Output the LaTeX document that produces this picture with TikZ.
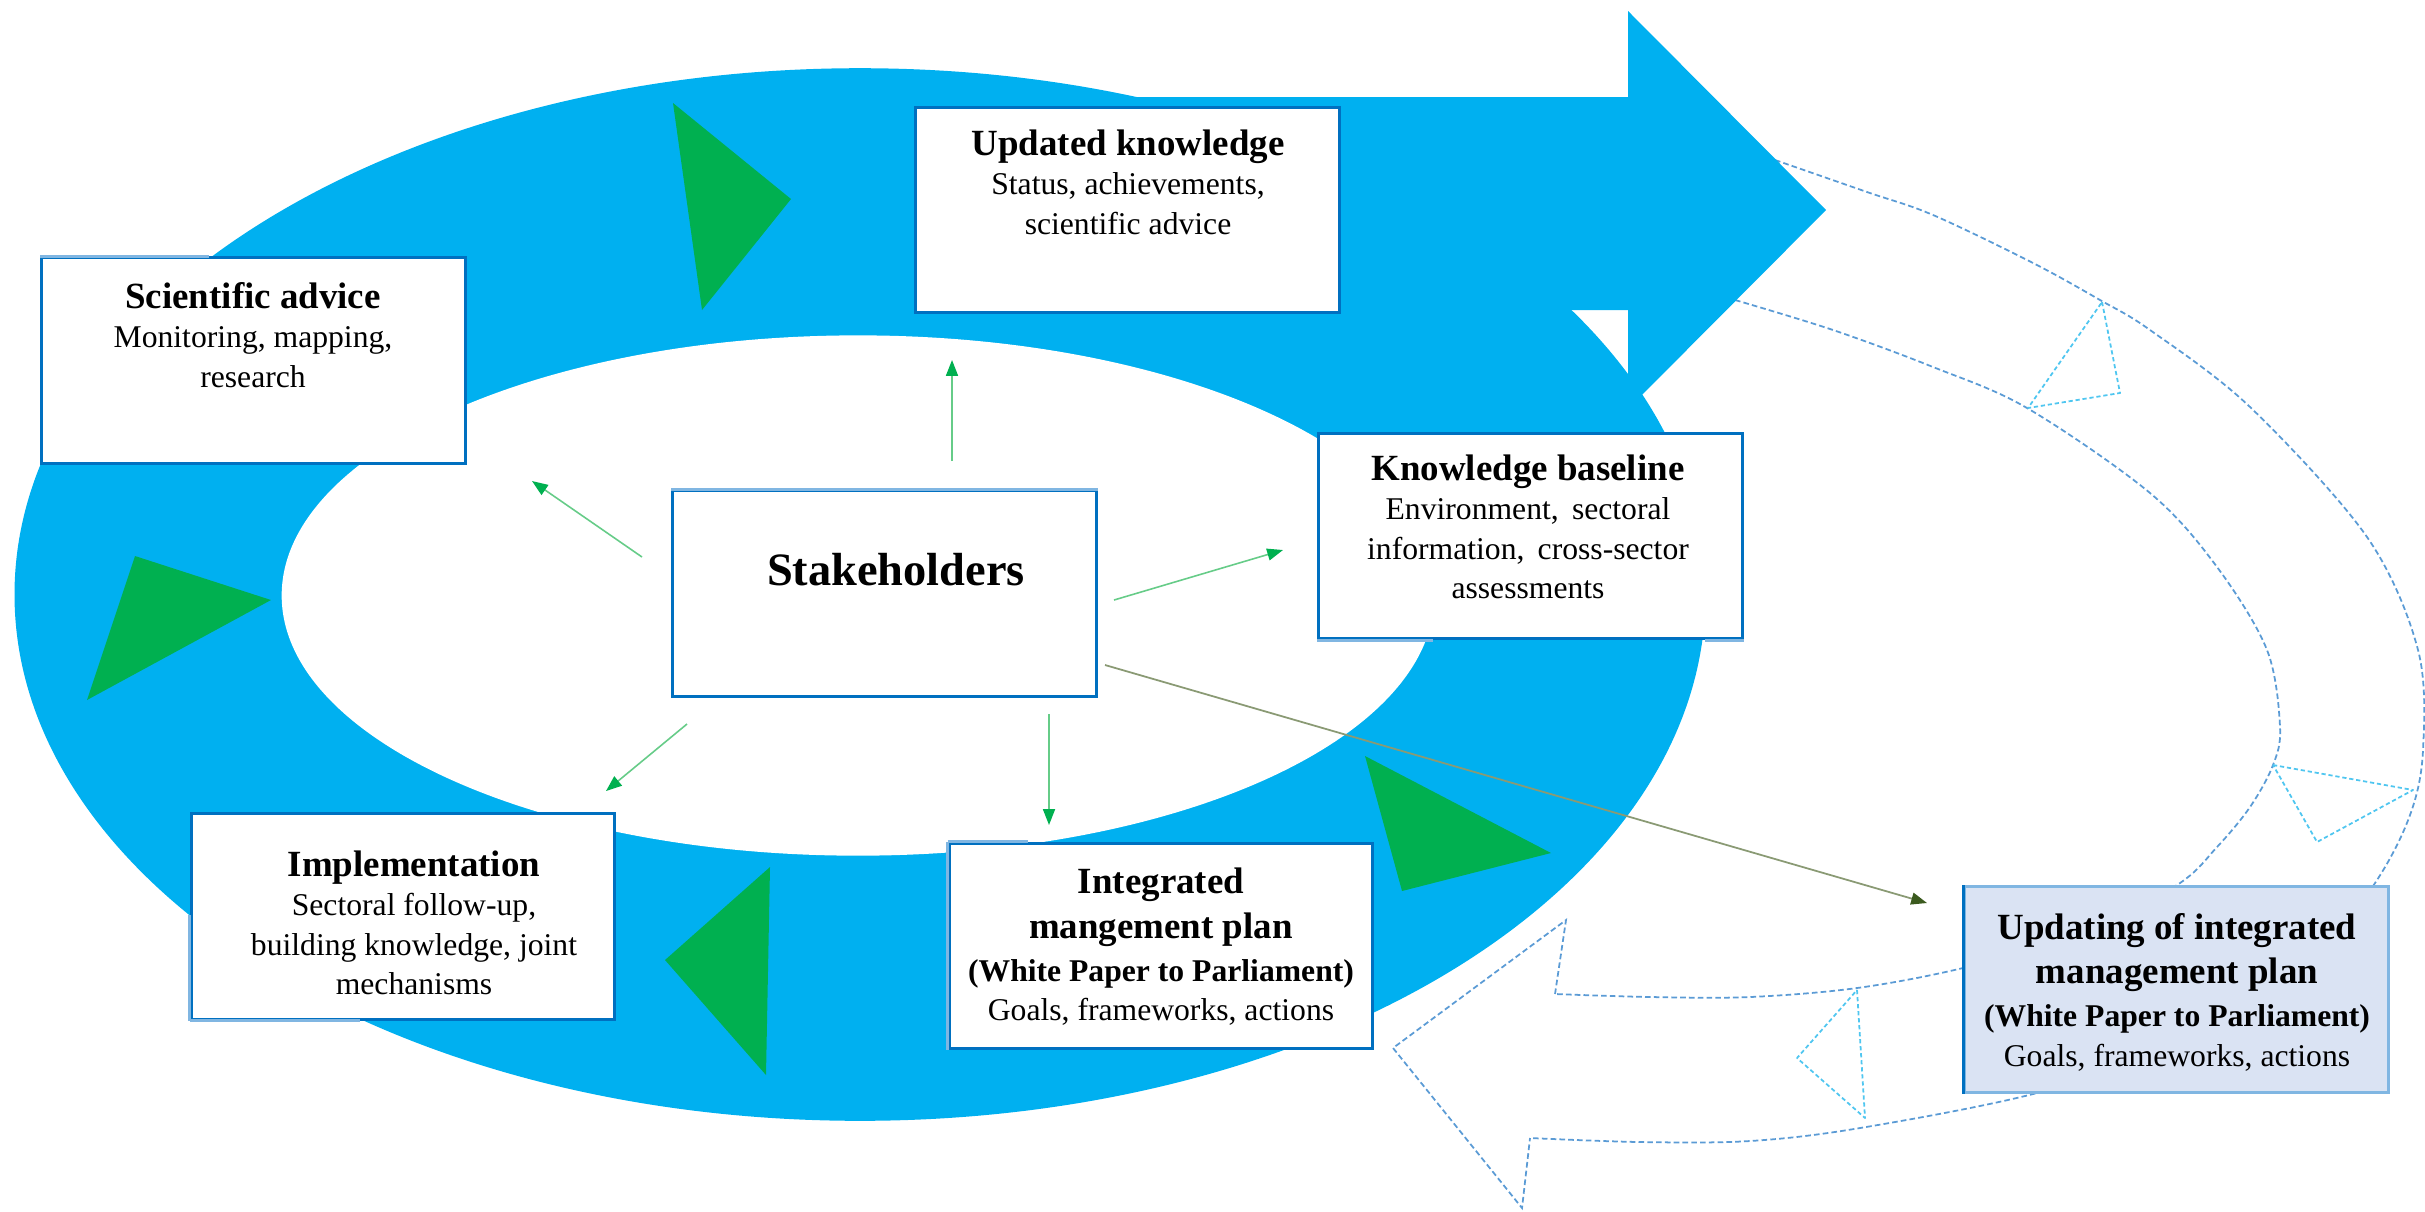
\documentclass[tikz,border=0pt]{standalone}
\usepackage{fontspec}
\setmainfont{Liberation Serif}
\usetikzlibrary{arrows.meta}
\definecolor{ringblue}{HTML}{00B0F0}
\definecolor{trigreen}{HTML}{00B050}
\definecolor{boxblue}{HTML}{0070C0}
\definecolor{edgelight}{HTML}{80B6E2}
\definecolor{dotblue}{HTML}{5B9BD5}
\definecolor{tricyan}{HTML}{4FC6F0}
\definecolor{updfill}{HTML}{DAE3F3}
\definecolor{linegreen}{HTML}{66CC88}
\definecolor{darkline}{HTML}{8A9A74}
\definecolor{darkhead}{HTML}{3B5A1E}
\newcommand\ttlf{\fontsize{10.5}{11.2}\selectfont\bfseries}
\newcommand\wpf{\fontsize{9}{11.2}\selectfont\bfseries}
\tikzset{
  box/.style={draw=boxblue, line width=0.85pt, fill=white, minimum width=4.23cm, minimum height=2.05cm, inner sep=0pt},
  txt/.style={align=center, inner sep=0pt, font=\fontsize{9}{11.2}\selectfont},
  lightedge/.style={draw=edgelight, line width=0.85pt},
  garrow/.style={draw=linegreen, line width=0.45pt, -{Triangle[length=4.5pt,width=3.4pt,color=trigreen]}},
  darrow/.style={draw=darkline, line width=0.5pt, -{Triangle[length=4.5pt,width=3.4pt,color=darkhead]}},
  dotline/.style={draw=dotblue, line width=0.5pt, dash pattern=on 1.6pt off 0.9pt},
  dottri/.style={draw=tricyan, line width=0.5pt, dash pattern=on 1.2pt off 0.8pt, line join=round},
  gtri/.style={fill=trigreen}
}
\begin{document}
\begin{tikzpicture}[x=0.01cm,y=-0.01cm]
\useasboundingbox (0,0) rectangle (2425,1211);

% second (future) cycle, outlined
\draw[dotline] plot[smooth, tension=0.55] coordinates {(1775,160) (1867,192) (1933,215) (2033,263) (2100,300) (2150,330) (2250,407) (2367,537) (2418,650) (2423,750) (2410,815) (2375,883) (2310,965) (2200,1040) (2037,1093) (1860,1128) (1750,1141) (1640,1142) (1530,1138)};
\draw[dotline] plot[smooth, tension=0.55] coordinates {(1735,300) (1833,330) (1933,367) (2027,408) (2150,493) (2217,567) (2267,650) (2280,727) (2273,765) (2250,807) (2217,847) (2177,885) (2080,935) (1963,968) (1857,988) (1750,997) (1650,997) (1555,994)};
\draw[dotline] (1555,994) -- (1566,920) -- (1393,1048) -- (1522,1208) -- (1530,1138);

% main blue ring and arrow
\fill[ringblue] (860,594.5) ellipse [x radius=8.45cm, y radius=5.26cm];
\fill[ringblue] (1100,97) -- (1628,97) -- (1628,11) -- (1826,210) -- (1628,409) -- (1628,310) -- (1100,310) -- cycle;
\fill[white] (858,595.5) ellipse [x radius=5.76cm, y radius=2.6cm];

% green direction triangles
\fill[gtri] (673,103) -- (791,199) -- (702,310) -- cycle;
\fill[gtri] (135,556) -- (271,600) -- (87,700) -- cycle;
\fill[gtri] (770,867) -- (665,960) -- (766,1075) -- cycle;
\fill[gtri] (1365,756) -- (1551,853) -- (1402,891) -- cycle;

% outlined direction triangles
\draw[dottri] (2102,302) -- (2120,393) -- (2028,408) -- cycle;
\draw[dottri] (2273,765) -- (2413,790) -- (2317,842) -- cycle;
\draw[dottri] (1857,990) -- (1865,1118) -- (1797,1058) -- cycle;

% boxes
\node[box] (bSci) at (253.5,360.5) {};
\node[box] (bUpd) at (1127.5,210) {};
\node[box] (bSta) at (884.5,593.5) {};
\node[box] (bKno) at (1530.5,536) {};
\node[box] (bImp) at (403,916.5) {};
\node[box] (bInt) at (1161,946) {};
\node[box, fill=updfill, draw=edgelight] (bUpg) at (2176.5,989.5) {};

% lighter border segments
\draw[lightedge] (bSci.north west) -- ++(169,0);
\draw[lightedge] (bSta.north west) -- (bSta.north east);
\draw[lightedge] (bImp.south west) -- ++(170,0);
\draw[lightedge] (bImp.south west) -- ++(0,-106);
\draw[lightedge] (bInt.north west) -- ++(80,0);
\draw[lightedge] (bInt.north west) -- (bInt.south west);
\draw[lightedge] (bKno.south west) -- ++(116,0);
\draw[lightedge] (bKno.south east) -- ++(-39,0);
\draw[draw=boxblue, line width=0.85pt] (bUpg.north west) -- (bUpg.south west);

% texts
\node[txt] (tSci) at (253,335) {{\ttlf Scientific advice}\\Monitoring, mapping,\\research};
\node[txt] (tUpd) at (1128,182) {{\ttlf Updated knowledge}\\Status, achievements,\\scientific advice};
\node[txt] (tKno) at (1528,527) {{\ttlf Knowledge baseline}\\Environment,\, sectoral\\information,\, cross-sector\\assessments};
\node[txt] (tImp) at (414,923) {{\ttlf Implementation}\\Sectoral follow-up,\\building knowledge, joint\\mechanisms};
\node[txt] (tInt) at (1161,947) {{\ttlf Integrated}\\[1.5pt]{\ttlf mangement plan}\\[1pt]{\wpf (White Paper to Parliament)}\\Goals, frameworks, actions};
\node[txt] (tUpg) at (2177,992) {{\ttlf Updating of integrated}\\[1.5pt]{\ttlf management plan}\\[1pt]{\wpf (White Paper to Parliament)}\\Goals, frameworks, actions};
\node[inner sep=0pt, font=\fontsize{13.2}{15}\selectfont\bfseries] (tSta) at (896,570) {Stakeholders};

% arrows from stakeholders
\coordinate (a1s) at (952,461); \coordinate (a1e) at (952,360);
\coordinate (a2s) at (642,557); \coordinate (a2e) at (532,481);
\coordinate (a3s) at (1114,600); \coordinate (a3e) at (1283,550);
\coordinate (a4s) at (687,724); \coordinate (a4e) at (606,791);
\coordinate (a5s) at (1049,714); \coordinate (a5e) at (1049,825);
\coordinate (a6s) at (1105,665); \coordinate (a6e) at (1927,903);
\draw[garrow] (a1s) -- (a1e);
\draw[garrow] (a2s) -- (a2e);
\draw[garrow] (a3s) -- (a3e);
\draw[garrow] (a4s) -- (a4e);
\draw[garrow] (a5s) -- (a5e);
\draw[darrow] (a6s) -- (a6e);
\end{tikzpicture}
\end{document}
